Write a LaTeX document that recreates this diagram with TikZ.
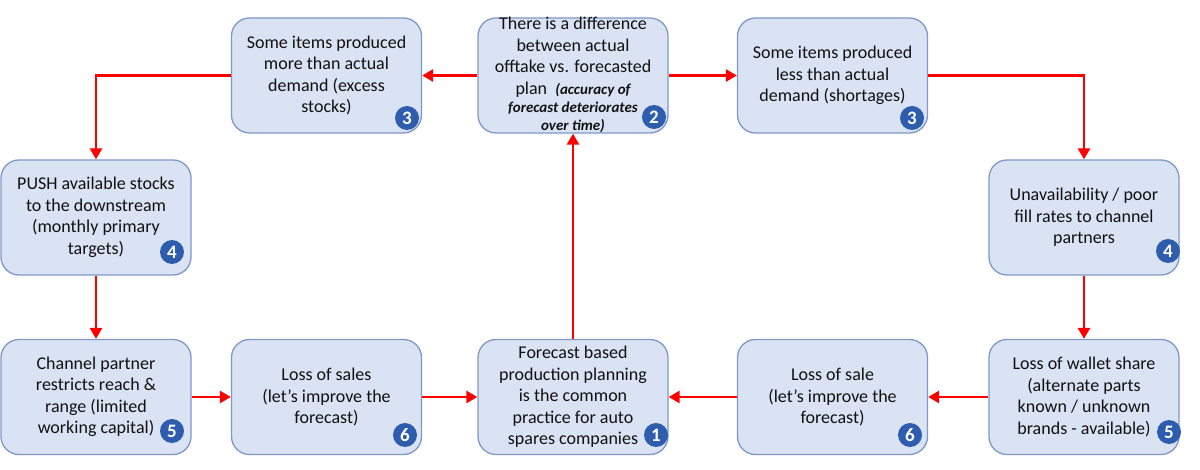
\documentclass[tikz,border=0pt]{standalone}
\usepackage{fontspec}
\setmainfont{Carlito}
\usetikzlibrary{arrows.meta,positioning}
\definecolor{boxfill}{HTML}{DAE3F3}
\definecolor{boxline}{HTML}{7F98C6}
\definecolor{badgecol}{HTML}{2E5DAE}
\definecolor{txt}{HTML}{111111}
\definecolor{arrred}{HTML}{FF0000}
\tikzset{
  box/.style={draw=boxline, fill=boxfill, line width=1.3pt, rounded corners=18pt,
    minimum width=190pt, minimum height=115pt, inner sep=0pt, align=center,
    text=txt, font=\fontsize{18}{21.5}\selectfont},
  lbl/.style={align=center, text=txt, inner sep=0pt, font=\fontsize{18}{21.5}\selectfont},
  itl/.style={font=\fontsize{15}{18}\selectfont\itshape\bfseries},
  badge/.style={circle, fill=badgecol, text=white, minimum size=24pt, inner sep=0pt,
    font=\fontsize{19}{19}\selectfont\bfseries},
  flow/.style={draw=arrred, line width=2.7pt, -{Triangle[length=11pt,width=12pt]}}
}
\newcommand{\itlpart}[1]{{\fontsize{15}{18}\selectfont\itshape\bfseries #1}}
\begin{document}
\begin{tikzpicture}[x=1pt,y=-1pt]
\useasboundingbox (0,0) rectangle (1200,470);
% top row
\node[box] (b1) at (326.5,75.5) {Some items produced\\more than actual\\demand (excess\\stocks)};
\node[box] (b2) at (573,75.5) {};
\node[lbl] (b2t) at (573,75) {There is a difference\\between actual\\offtake vs. forecasted\\plan\ \ \itlpart{(accuracy of}\\[-3.5pt]
\itlpart{forecast deteriorates}\\[-3.5pt]
\itlpart{over time)}};
\node[box] (b3) at (832.5,75.5) {Some items produced\\less than actual\\demand (shortages)};
% middle row
\node[box] (m1) at (96,217.5) {PUSH available stocks\\to the downstream\\(monthly primary\\targets)};
\node[box] (m2) at (1084,217.5) {Unavailability / poor\\fill rates to channel\\partners};
% bottom row
\node[box] (c1) at (96,397) {Channel partner\\restricts reach \&\\range (limited\\working capital)};
\node[box] (c2) at (326.5,397) {Loss of sales\\(let’s improve the\\forecast)};
\node[box] (c3) at (573,397) {Forecast based\\production planning\\is the common\\practice for auto\\spares companies};
\node[box] (c4) at (832.5,397) {Loss of sale\\(let’s improve the\\forecast)};
\node[box] (c5) at (1084,397) {Loss of wallet share\\(alternate parts\\known / unknown\\brands - available)};
% badges
\node[badge] (n1) at (407,118) {3};
\node[badge] (n2) at (654,117) {2};
\node[badge] (n3) at (912,118) {3};
\node[badge] (n4) at (172,252) {4};
\node[badge] (n5) at (1168,251) {4};
\node[badge] (n6) at (172,431) {5};
\node[badge] (n7) at (405,435) {6};
\node[badge] (n8) at (656,435) {1};
\node[badge] (n9) at (910,435) {6};
\node[badge] (n10) at (1169,432) {5};
% connectors
\draw[flow] (b2.west) -- (b1.east);
\draw[flow] (b2.east) -- (b3.west);
\draw[flow] (b3.east) -| (m2.north);
\draw[flow] (b1.west) -| (m1.north);
\draw[flow] (m1.south) -- (c1.north);
\draw[flow] (m2.south) -- (c5.north);
\draw[flow] (c1.east) -- (c2.west);
\draw[flow] (c2.east) -- (c3.west);
\draw[flow] (c5.west) -- (c4.east);
\draw[flow] (c4.west) -- (c3.east);
\draw[flow] (c3.north) -- (b2.south);
\end{tikzpicture}
\end{document}
